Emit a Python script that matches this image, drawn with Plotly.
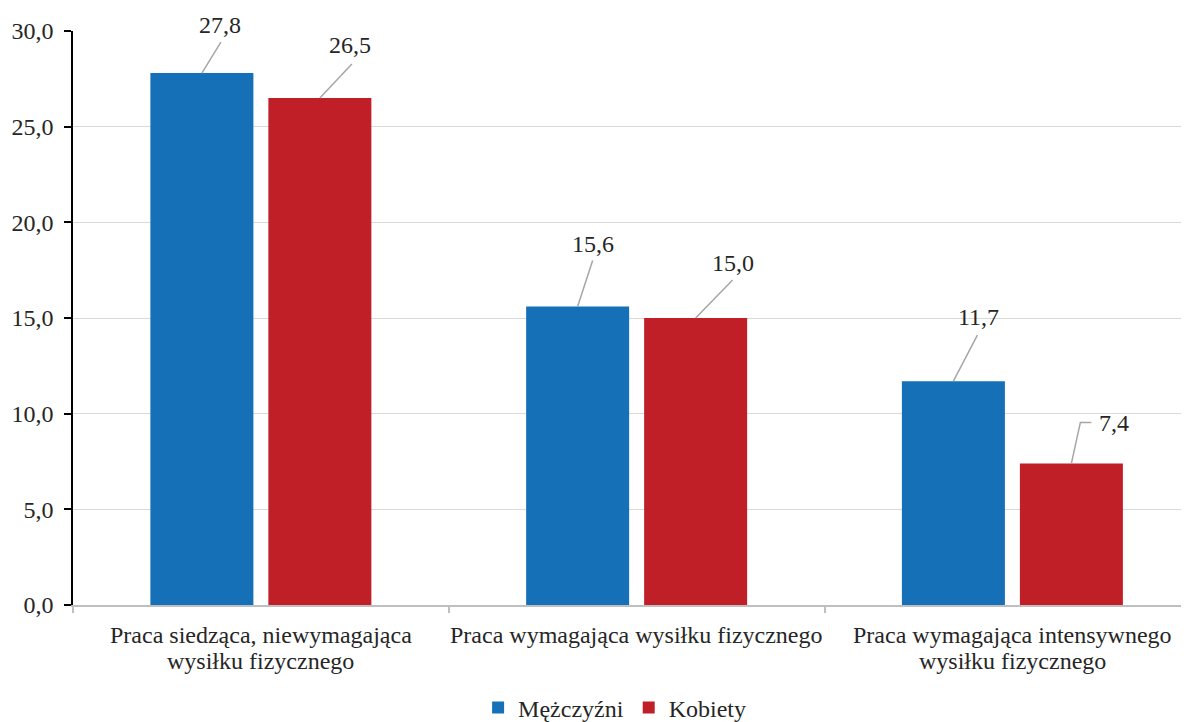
import plotly.graph_objects as go

categories = [
    ["Praca siedząca, niewymagająca", "wysiłku fizycznego"],
    ["Praca wymagająca wysiłku fizycznego"],
    ["Praca wymagająca intensywnego", "wysiłku fizycznego"],
]
men = [27.8, 15.6, 11.7]
women = [26.5, 15.0, 7.4]
series_names = ["Mężczyźni", "Kobiety"]
y_ticks = [0, 5, 10, 15, 20, 25, 30]

# style / placement (not data)
colors = ["#1570B7", "#C01F27"]
bar_offset = 0.157  # category units: half the group slot
label_offsets = {  # (dx, dy up) px of label centre from bar top
    (0, 0): (18, 48), (0, 1): (30, 53),
    (1, 0): (15, 63), (1, 1): (37, 55),
    (2, 0): (25, 64), (2, 1): (43, 40),
}
leader_paths = {
    (0, 0): "M0,0 L19,31", (0, 1): "M0,0 L32,34",
    (1, 0): "M0,0 L15,46", (1, 1): "M0,0 L37,38",
    (2, 0): "M0,0 L24,46", (2, 1): "M0,0 L9,41 L20,41",
}
cat_line_shift = [-30, -56]  # px below axis for each label line

FONT = "Liberation Serif"
TXT = "#262626"
FS = 24
xpos = list(range(len(categories)))

fig = go.Figure()
for s, (vals, name) in enumerate(zip([men, women], series_names)):
    fig.add_trace(go.Bar(
        x=xpos, y=vals, name=name, marker_color=colors[s],
        marker_line_width=0,
    ))

annotations = []
shapes = []
for s, vals in enumerate([men, women]):
    sign = -1 if s == 0 else 1
    for i, v in enumerate(vals):
        bx = i + sign * bar_offset
        dx, dy = label_offsets[(i, s)]
        annotations.append(dict(
            x=bx, y=v, xref="x", yref="y", text=f"{v:.1f}".replace(".", ","),
            showarrow=False, xshift=dx, yshift=dy,
            xanchor="center", yanchor="middle",
            font=dict(family=FONT, size=FS, color=TXT),
        ))
        shapes.append(dict(
            type="path", xref="x", yref="y", xsizemode="pixel", ysizemode="pixel",
            xanchor=bx, yanchor=v, path=leader_paths[(i, s)],
            line=dict(color="#A6A6A6", width=1.5),
        ))

for i, lines in enumerate(categories):
    for k, line in enumerate(lines):
        annotations.append(dict(
            x=i, y=0, xref="x", yref="paper", text=line, showarrow=False,
            xanchor="center", yanchor="middle", yshift=cat_line_shift[k],
            font=dict(family=FONT, size=FS, color=TXT),
        ))

fig.update_layout(
    width=1181, height=714,
    margin=dict(l=65, r=0, t=23, b=117, autoexpand=False),
    paper_bgcolor="white", plot_bgcolor="white",
    separators=", ",
    barmode="group", bargap=0.372, bargroupgap=0.127,
    font=dict(family=FONT, size=FS, color=TXT),
    showlegend=True,
    legend=dict(orientation="h", x=0.363, xanchor="left", y=-0.1794, yanchor="middle",
                font=dict(family=FONT, size=FS, color=TXT), itemwidth=30,
                traceorder="normal"),
    annotations=annotations,
    shapes=shapes,
)
fig.update_xaxes(
    range=[-0.5, 2.47], tickvals=xpos, showticklabels=False, ticks="",
    showgrid=False, showline=True, linecolor="#BFBFBF", linewidth=1.5,
    automargin=False,
    minor=dict(tickvals=[-0.5, 0.5, 1.5, 2.5], ticks="outside", ticklen=6,
               tickcolor="#BFBFBF", tickwidth=1.5, showgrid=False),
    zeroline=False,
)
fig.update_yaxes(
    range=[0, 30], tickvals=y_ticks, tickformat=".1f",
    ticks="outside", ticklen=7, tickcolor="black", tickwidth=1.5,
    showline=True, linecolor="black", linewidth=1.5, automargin=False,
    showgrid=True, gridcolor="#D9D9D9", gridwidth=1.3, zeroline=False,
    tickfont=dict(family=FONT, size=FS, color=TXT), ticklabelstandoff=6,
)

fig.write_html("out.html")
